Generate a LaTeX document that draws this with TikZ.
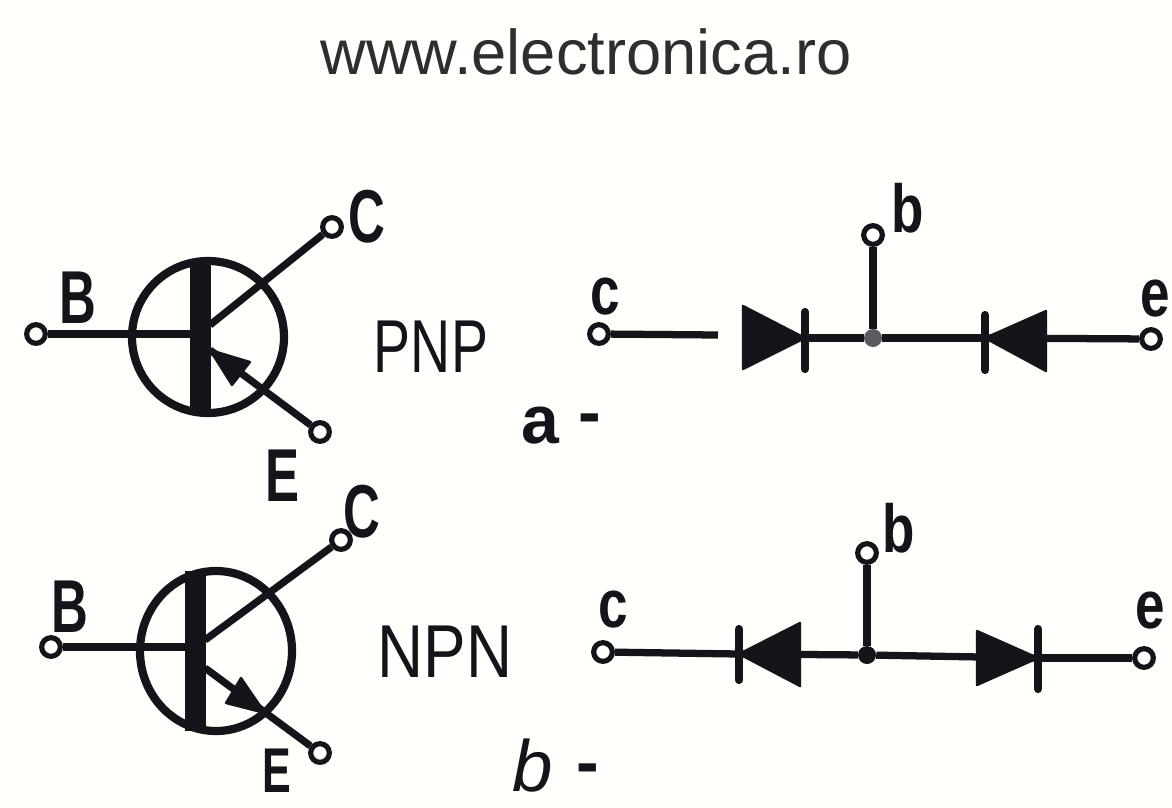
\documentclass[tikz,border=0pt]{standalone}
\usepackage{fontspec}
\setmainfont{Liberation Sans}
\usetikzlibrary{shapes, positioning}
\definecolor{paper}{HTML}{FFFFFB}
\definecolor{ink}{HTML}{14141A}
\tikzset{
	lead/.style={line width=6.2pt, draw=ink},
	term/.style={circle, draw=ink, line width=4.4pt, fill=paper, minimum size=0.56cm, inner sep=0pt},
	dot/.style={circle, fill=ink, minimum size=0.54cm, inner sep=0pt},
	shell/.style={ellipse, draw=ink, line width=7pt, inner sep=0pt},
	barnode/.style={rectangle, fill=ink, inner sep=0pt, minimum width=0.63cm},
	head/.style={fill=ink, draw=ink, line width=2pt, line join=round},
	kbar/.style={line width=7pt, draw=ink, line cap=round},
	lbl/.style={font=\fontsize{64}{64}\selectfont\bfseries, text=ink, xscale=0.68, inner sep=0pt},
	type/.style={font=\fontsize{64}{64}\selectfont, text=ink, xscale=0.74, inner sep=0pt},
	small/.style={font=\fontsize{58}{58}\selectfont\bfseries, text=ink, xscale=0.78, inner sep=0pt}
}
\begin{document}
\begin{tikzpicture}[x=0.03cm, y=-0.03cm]
	\fill[paper] (0,0) rectangle (1172,807);
	\useasboundingbox (0,0) rectangle (1172,807);

	% Title
	\node[font=\fontsize{54}{54}\selectfont, text=black!82, inner sep=0pt] (title) at (586,52) {www.electronica.ro};

	% PNP transistor
	\node[shell, minimum width=4.56cm, minimum height=4.56cm] (shellp) at (208,337) {};
	\node[barnode, minimum height=4.6cm] (barp) at (200,337) {};
	\node[term] (Bp) at (36,334) {};
	\node[term] (Cp) at (332,227) {};
	\node[term] (Ep) at (320,432) {};
	\coordinate (cbarp) at (210,325);
	\coordinate (ebarp) at (210,350);
	\draw[lead] (Bp) -- (Bp -| barp);
	\draw[lead] (cbarp) -- (Cp);
	\draw[lead] (ebarp) -- (Ep);
	\fill[head] (ebarp) -- (250,362) -- (232,385) -- cycle;
	\node[lbl] (lBp) at (78,298) {B};
	\node[lbl] (lCp) at (367,217) {C};
	\node[lbl] (lEp) at (283,476) {E};
	\node[type] (lPNP) at (431,347) {PNP};
	\node[font=\fontsize{58}{58}\selectfont\bfseries, text=ink, inner sep=0pt] (la) at (540,426) {a};
	\node[font=\fontsize{58}{58}\selectfont\bfseries, text=ink, inner sep=0pt] (ldasha) at (590,425) {-};

	% NPN transistor
	\node[shell, minimum width=4.56cm, minimum height=4.8cm] (shelln) at (216,651) {};
	\node[barnode, minimum height=4.8cm] (barn) at (195,651) {};
	\node[term] (Bn) at (51,647) {};
	\node[term] (Cn) at (341,540) {};
	\node[term] (En) at (320,753) {};
	\coordinate (cbarn) at (205,640);
	\coordinate (ebarn) at (205,668);
	\draw[lead] (Bn) -- (Bn -| barn);
	\draw[lead] (cbarn) -- (Cn);
	\draw[lead] (ebarn) -- (En);
	\fill[head] (265,713) -- (241,678) -- (226,703) -- cycle;
	\node[lbl] (lBn) at (70,607) {B};
	\node[lbl] (lCn) at (362,512) {C};
	\node[lbl, font=\fontsize{54}{54}\selectfont\bfseries] (lEn) at (277,771) {E};
	\node[type, xscale=1.15] (lNPN) at (445,652) {NPN};
	\node[font=\fontsize{62}{62}\selectfont\itshape, text=ink, inner sep=0pt] (lb) at (533,766) {b};
	\node[font=\fontsize{58}{58}\selectfont\bfseries, text=ink, inner sep=0pt] (ldashb) at (588,775) {-};

	% Diodes a
	\node[term] (ca) at (599,334) {};
	\node[term] (ba) at (873,235) {};
	\node[term] (ea) at (1151,339) {};
	\node[dot, fill=ink!70] (ja) at (873,338) {};
	\coordinate (brka) at (718,335);
	\coordinate (ka) at (805,338);
	\coordinate (kb) at (985,338);
	\draw[lead] (ca) -- (brka);
	\draw[lead] (ka) -- (ja);
	\draw[lead] (ja) -- (kb);
	\draw[lead] (kb) -- (ea);
	\draw[lead] (ba) -- (ja);
	\fill[head] (743,306) -- (ka) -- (743,369) -- cycle;
	\fill[head] (1046,311) -- (kb) -- (1046,371) -- cycle;
	\draw[kbar] (805,312) -- (805,369);
	\draw[kbar] (985,315) -- (985,370);
	\node[small] (lca) at (605,297) {c};
	\node[small] (lba) at (908,208) {b};
	\node[small] (lea) at (1155,299) {e};

	% Diodes b
	\node[term] (cb) at (603,652) {};
	\node[term] (bb) at (867,553) {};
	\node[term] (eb) at (1144,658) {};
	\node[dot] (jb) at (867,655) {};
	\coordinate (kc) at (739,654);
	\coordinate (kd) at (1038,658);
	\draw[lead] (cb) -- (kc);
	\draw[lead] (kc) -- (jb);
	\draw[lead] (jb) -- (kd);
	\draw[lead] (kd) -- (eb);
	\draw[lead] (bb) -- (jb);
	\fill[head] (800,623) -- (kc) -- (800,686) -- cycle;
	\fill[head] (977,631) -- (kd) -- (977,685) -- cycle;
	\draw[kbar] (739,629) -- (739,680);
	\draw[kbar] (1038,629) -- (1038,689);
	\node[small] (lcb) at (613,610) {c};
	\node[small] (lbb) at (899,528) {b};
	\node[small] (leb) at (1150,611) {e};
\end{tikzpicture}
\end{document}
